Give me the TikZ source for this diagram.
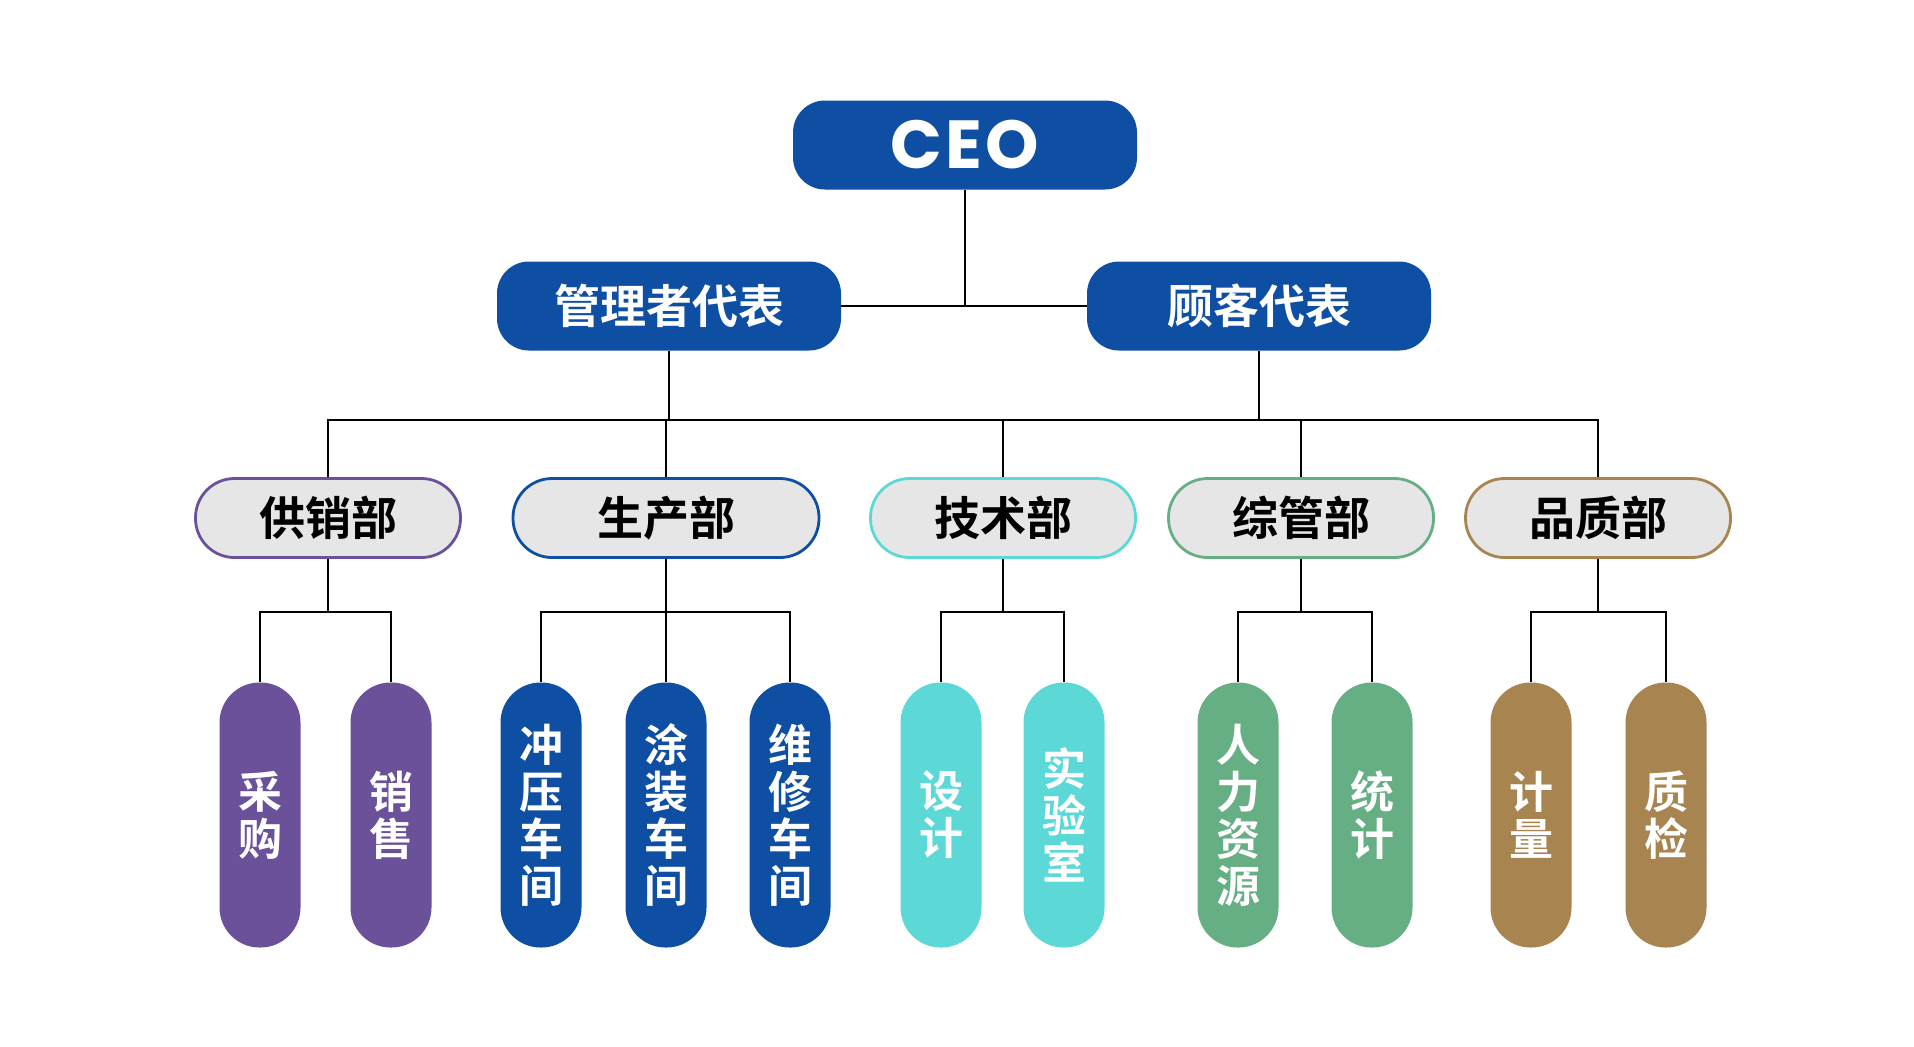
\documentclass[tikz,border=0pt]{standalone}
\usepackage{fontspec}
\usetikzlibrary{positioning}
\newfontfamily\cjkfont{Noto Sans CJK SC Bold}
\newfontfamily\ceofont{Poppins}[LetterSpace=5]
\definecolor{ceoblue}{HTML}{0F4FA3}
\definecolor{deptgrey}{HTML}{E6E6E6}
\definecolor{salespurple}{HTML}{6A5199}
\definecolor{techcyan}{HTML}{5CD9D7}
\definecolor{admingreen}{HTML}{66AE83}
\definecolor{qualitybrown}{HTML}{A88450}

\tikzset{
  topbox/.style={fill=ceoblue,rounded corners=16pt,minimum width=172pt,minimum height=44.5pt,
    inner sep=0pt,text=white,font=\cjkfont\fontsize{23}{23}\selectfont},
  deptbox/.style={draw=#1,line width=1.4pt,fill=deptgrey,rounded corners=19.5pt,
    minimum width=132.5pt,minimum height=39.5pt,inner sep=0pt,font=\cjkfont\fontsize{23}{23}\selectfont},
  pill/.style={fill=#1,rounded corners=20pt,minimum width=40.5pt,minimum height=132.5pt,
    inner sep=0pt,align=center,text=white,font=\cjkfont\fontsize{22}{23.5}\selectfont},
  link/.style={line width=1.3pt,line join=miter}
}

\begin{document}
\begin{tikzpicture}[x=0.5pt,y=-0.5pt]
  \useasboundingbox (0,0) rectangle (1914,1046);
  % Top level
  \node[topbox,font=\ceofont\bfseries\fontsize{34}{34}\selectfont] (ceo) at (965,145) {CEO};
  \node[topbox] (mgrrep) at (669,306) {管理者代表};
  \node[topbox] (custrep) at (1259,306) {顾客代表};
  % Departments
  \node[deptbox=salespurple] (sales) at (328,518) {供销部};
  \node[deptbox=ceoblue,minimum width=153pt] (prod) at (666,518) {生产部};
  \node[deptbox=techcyan] (tech) at (1003,518) {技术部};
  \node[deptbox=admingreen] (admin) at (1301,518) {综管部};
  \node[deptbox=qualitybrown] (quality) at (1598,518) {品质部};
  % Sections
  \node[pill=salespurple] (purchase) at (260,815) {采\\购};
  \node[pill=salespurple] (selling) at (391,815) {销\\售};
  \node[pill=ceoblue] (stamping) at (541,815) {冲\\压\\车\\间};
  \node[pill=ceoblue] (painting) at (666,815) {涂\\装\\车\\间};
  \node[pill=ceoblue] (repair) at (790,815) {维\\修\\车\\间};
  \node[pill=techcyan] (design) at (941,815) {设\\计};
  \node[pill=techcyan] (lab) at (1064,815) {实\\验\\室};
  \node[pill=admingreen] (hr) at (1238,815) {人\\力\\资\\源};
  \node[pill=admingreen] (stats) at (1372,815) {统\\计};
  \node[pill=qualitybrown] (metering) at (1531,815) {计\\量};
  \node[pill=qualitybrown] (inspection) at (1666,815) {质\\检};
  % Links
  \coordinate (bus) at (0,420);
  \coordinate (sub) at (0,612);
  \draw[link] (ceo.south) -- (ceo.south |- mgrrep.east);
  \draw[link] (mgrrep.east) -- (custrep.west);
  \draw[link] (mgrrep.south) -- (mgrrep.south |- bus);
  \draw[link] (custrep.south) -- (custrep.south |- bus);
  \draw[link] (sales.north) -- (sales.north |- bus) -- (quality.north |- bus) -- (quality.north);
  \foreach \d in {prod,tech,admin}
    \draw[link] (\d.north) -- (\d.north |- bus);
  \foreach \d in {sales,prod,tech,admin,quality}
    \draw[link] (\d.south) -- (\d.south |- sub);
  \draw[link] (purchase.north) -- (purchase.north |- sub) -- (selling.north |- sub) -- (selling.north);
  \draw[link] (stamping.north) -- (stamping.north |- sub) -- (repair.north |- sub) -- (repair.north);
  \draw[link] (painting.north) -- (painting.north |- sub);
  \draw[link] (design.north) -- (design.north |- sub) -- (lab.north |- sub) -- (lab.north);
  \draw[link] (hr.north) -- (hr.north |- sub) -- (stats.north |- sub) -- (stats.north);
  \draw[link] (metering.north) -- (metering.north |- sub) -- (inspection.north |- sub) -- (inspection.north);
\end{tikzpicture}
\end{document}
